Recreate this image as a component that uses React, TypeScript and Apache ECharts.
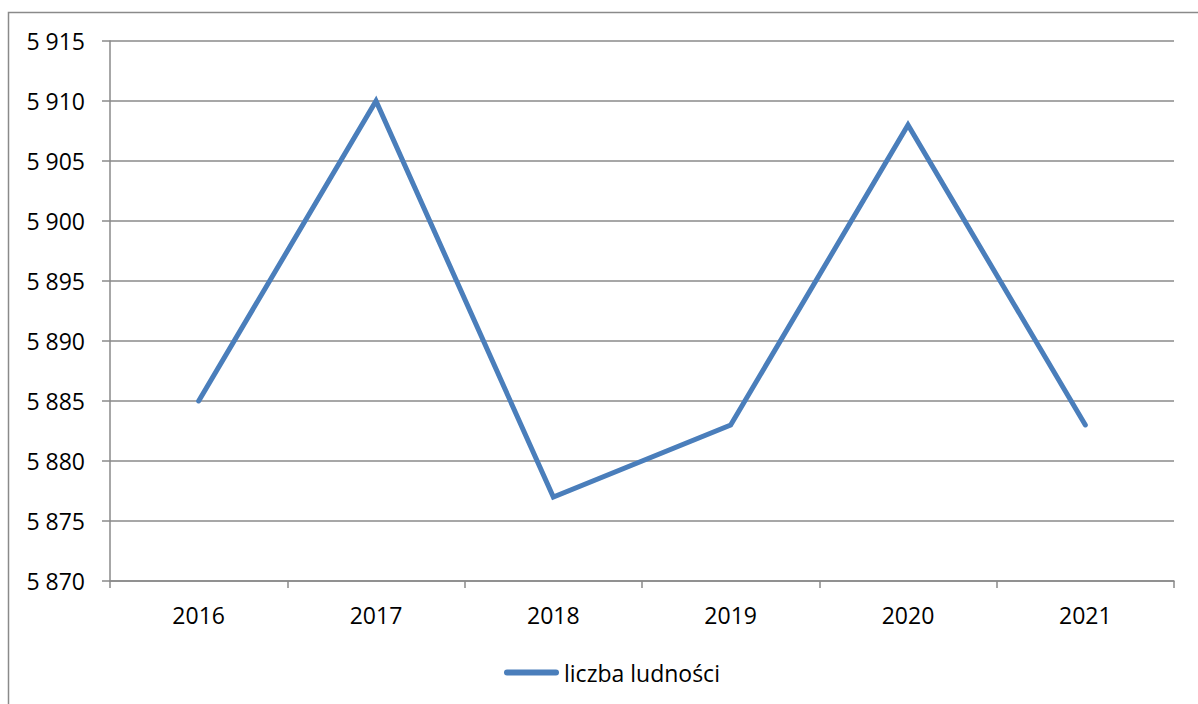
import React, { useEffect, useRef } from "react";
import * as echarts from "echarts";

const years = ["2016", "2017", "2018", "2019", "2020", "2021"];
const population = [5885, 5910, 5877, 5883, 5908, 5883];
const seriesName = "liczba ludności";
const yMin = 5870;
const yMax = 5915;
const yStep = 5;

const FONT = "'Open Sans', 'Liberation Sans', sans-serif";
const GRAY = "#8a8a8a";
const BLUE = "#4a7ebb";

function fmt(v: number): string {
  const s = String(Math.round(v));
  return s.replace(/\B(?=(\d{3})+(?!\d))/g, " ");
}

export default function App() {
  const ref = useRef<HTMLDivElement>(null);
  useEffect(() => {
    if (!ref.current) return;
    const chart = echarts.init(ref.current, undefined, { renderer: "svg" });
    chart.setOption({
      animation: false,
      backgroundColor: "#ffffff",
      textStyle: { fontFamily: FONT },
      graphic: [
        {
          type: "rect",
          shape: { x: 8.5, y: 12.5, width: 1300, height: 800 },
          style: { fill: "none", stroke: GRAY, lineWidth: 1.5 },
          silent: true,
        },
      ],
      grid: { left: 110, right: 24, top: 41, bottom: 123, containLabel: false },
      legend: {
        left: 499,
        top: 656,
        itemWidth: 55,
        itemHeight: 6,
        icon: "path://M3,0 H52 A3,3 0 0 1 52,6 H3 A3,3 0 0 1 3,0 Z",
        textStyle: { fontFamily: FONT, fontSize: 23, color: "#000" },
        data: [seriesName],
      },
      xAxis: {
        type: "category",
        data: years,
        boundaryGap: true,
        axisLine: { show: true, lineStyle: { color: GRAY, width: 1.5 } },
        axisTick: { show: true, length: 7, lineStyle: { color: GRAY, width: 1.5 } },
        axisLabel: { margin: 22, fontSize: 23, color: "#000", fontFamily: FONT },
        splitLine: { show: false },
      },
      yAxis: {
        type: "value",
        min: yMin,
        max: yMax,
        interval: yStep,
        axisLine: { show: true, lineStyle: { color: GRAY, width: 1.5 } },
        axisTick: { show: true, length: 8, lineStyle: { color: GRAY, width: 1.5 } },
        axisLabel: {
          margin: 25,
          fontSize: 23,
          color: "#000",
          fontFamily: FONT,
          formatter: (v: number) => fmt(v),
        },
        splitLine: { show: true, lineStyle: { color: GRAY, width: 1.5 } },
      },
      series: [
        {
          name: seriesName,
          type: "line",
          data: population,
          symbol: "none",
          showSymbol: false,
          color: BLUE,
          lineStyle: { color: BLUE, width: 5, cap: "round", join: "miter" },
          itemStyle: { color: BLUE },
        },
      ],
    });
    return () => chart.dispose();
  }, []);
  return (
    <div
      ref={ref}
      style={{ position: "fixed", left: 0, top: 0, width: 1198, height: 704 }}
    />
  );
}
